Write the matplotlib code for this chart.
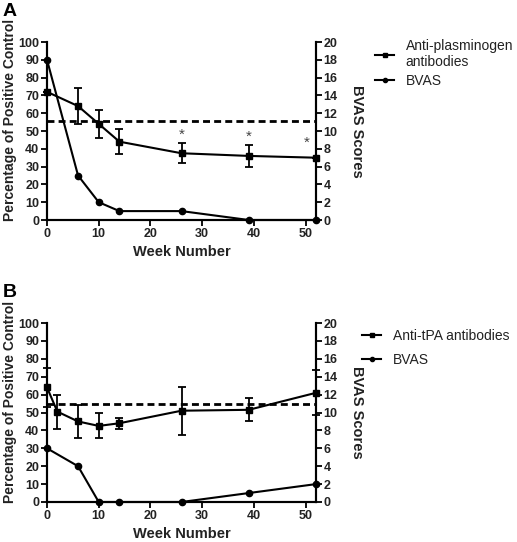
import matplotlib
matplotlib.use("Agg")
import matplotlib.pyplot as plt
from matplotlib.lines import Line2D

plt.rcParams['font.family'] = ['Liberation Sans', 'DejaVu Sans']

# Panel A data
weeks_ab_a = [0, 6, 10, 14, 26, 39, 52]
ab_a = [72, 64, 54, 44, 37.5, 36, 35]
ab_err_a = [0, 10, 8, 7, 5.5, 6, 0]
weeks_bvas_a = [0, 6, 10, 14, 26, 39, 52]
bvas_a = [18, 5, 2, 1, 1, 0, 0]
cutoff_a = 55.5
star_weeks_a = [26, 39, 50.2]
star_y_a = [48, 46.5, 43.5]
legend_a = ["Anti-plasminogen\nantibodies", "BVAS"]

# Panel B data
weeks_ab_b = [0, 2, 6, 10, 14, 26, 39, 52]
ab_b = [64, 50.5, 45, 42.5, 44, 51, 51.5, 61]
ab_err_b = [11, 9.5, 9, 7, 3, 13.5, 6.5, 12.5]
weeks_bvas_b = [0, 6, 10, 14, 26, 39, 52]
bvas_b = [6, 4, 0, 0, 0, 1, 2]
cutoff_b = 54.5
legend_b = ["Anti-tPA antibodies", "BVAS"]

W, H = 517, 542
TXT = '#222222'
fig = plt.figure(figsize=(W / 100, H / 100), dpi=100)


def fx(px):
    return px / W


def fy(py):
    return 1 - py / H


def panel(top_px, bot_px, label, weeks_ab, ab, ab_err, weeks_bvas, bvas, cutoff,
          legend_labels, leg_x, leg_y, leg_spacing, stars=None):
    left_px, right_px = 47, 316
    ax = fig.add_axes([fx(left_px), fy(bot_px), (right_px - left_px) / W,
                       (bot_px - top_px) / H])
    ax2 = ax.twinx()
    ax.set_xlim(0, 52)
    ax.set_ylim(0, 100)
    ax2.set_ylim(0, 20)
    ax.axhline(cutoff, color='black', lw=2, ls=(0, (2.5, 1.5)), zorder=1)
    eb = ax.errorbar(weeks_ab, ab, yerr=ab_err, color='black', lw=1.5, marker='s',
                     ms=5, capsize=3, elinewidth=1.3, capthick=1.3, clip_on=False,
                     zorder=3)
    for c in eb.lines[1]:
        c.set_clip_on(False)
    for c in eb.lines[2]:
        c.set_clip_on(False)
    ax2.plot(weeks_bvas, bvas, color='black', lw=1.5, marker='o', ms=4.5,
             clip_on=False, zorder=3)
    if stars:
        for x, y in zip(*stars):
            ax.text(x, y, '*', ha='center', va='center', fontsize=11,
                    color='#444444')
    for a in (ax, ax2):
        a.spines['top'].set_visible(False)
        for s in ('left', 'right', 'bottom'):
            a.spines[s].set_linewidth(1.5)
        a.tick_params(direction='out', width=1.3, length=4, labelsize=9, pad=1.5,
                      labelcolor=TXT)
    ax.set_xticks(range(0, 51, 10))
    ax.set_yticks(range(0, 101, 10))
    ax2.set_yticks(range(0, 21, 2))
    for t in ax.get_xticklabels() + ax.get_yticklabels() + ax2.get_yticklabels():
        t.set_fontweight('bold')
    fig.text(fx((left_px + right_px) / 2), fy(bot_px + 32), 'Week Number',
             fontsize=10.5, fontweight='bold', color=TXT, ha='center', va='center')
    fig.text(fx(10), fy((top_px + bot_px) / 2 - 11), 'Percentage of Positive Control',
             fontsize=10, fontweight='bold', color=TXT, ha='center', va='center',
             rotation=90)
    fig.text(fx(357), fy((top_px + bot_px) / 2), 'BVAS Scores',
             fontsize=10.5, fontweight='bold', color=TXT, ha='center', va='center',
             rotation=270)
    h1 = Line2D([], [], color='black', lw=1.5, marker='s', ms=3.5)
    h2 = Line2D([], [], color='black', lw=1.5, marker='o', ms=3)
    fig.legend([h1, h2], legend_labels, loc='upper left',
               bbox_to_anchor=(fx(leg_x), fy(leg_y)), frameon=False,
               fontsize=10, handlelength=1.4, handletextpad=0.8,
               labelspacing=leg_spacing, borderaxespad=0, borderpad=0,
               labelcolor=TXT)
    fig.text(fx(3), fy(top_px - 39), label, fontsize=14, fontweight='bold',
             va='top', ha='left')


panel(42, 220, 'A', weeks_ab_a, ab_a, ab_err_a, weeks_bvas_a, bvas_a, cutoff_a,
      legend_a, 375, 39, 0.35, stars=(star_weeks_a, star_y_a))
panel(323, 502, 'B', weeks_ab_b, ab_b, ab_err_b, weeks_bvas_b, bvas_b, cutoff_b,
      legend_b, 362, 329, 0.7)

fig.savefig('out.png', dpi=100)
